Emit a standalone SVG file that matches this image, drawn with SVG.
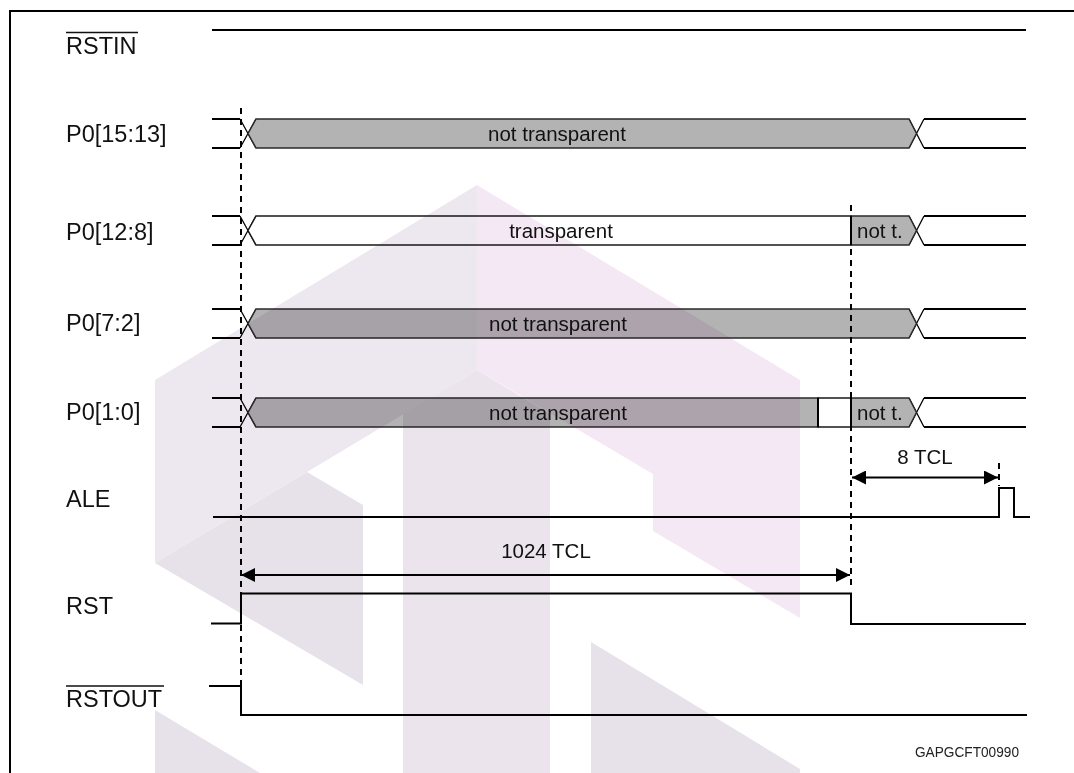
<svg xmlns="http://www.w3.org/2000/svg" width="1074" height="773" viewBox="0 0 1074 773">
<style>
  .lbl { font-family: "Liberation Sans", Arial, sans-serif; font-size: 23.5px; fill: #111; }
  .bt { font-family: "Liberation Sans", Arial, sans-serif; font-size: 20.5px; fill: #111; }
  .mid { text-anchor: middle; }
  .sig { fill: none; stroke: #000; stroke-width: 2; }
  .stub { fill: none; stroke: #000; stroke-width: 2; }
  .xl { fill: none; stroke: #000; stroke-width: 1.3; }
  .gray { fill: #b3b3b3; stroke: #2a2a2a; stroke-width: 1.5; }
  .white { fill: #fff; stroke: #1a1a1a; stroke-width: 1.5; }
  .sep { stroke: #000; stroke-width: 2; }
  .dash { fill: none; stroke: #000; stroke-width: 2; stroke-dasharray: 6 5; }
  .dim { fill: none; stroke: #000; stroke-width: 2; }
  .over { stroke: #111; stroke-width: 1.6; }
  .wm { mix-blend-mode: multiply; }
</style>
<defs>
  <marker id="ah" viewBox="0 0 14 14" refX="14" refY="7" markerWidth="14" markerHeight="14" markerUnits="userSpaceOnUse" orient="auto-start-reverse">
    <path d="M0,0 L14,7 L0,14 z" fill="#000"/>
  </marker>
</defs>
<rect x="0" y="0" width="1074" height="773" fill="#fff"/>
<path d="M10,773 V11 H1074" fill="none" stroke="#000" stroke-width="2"/>

<g id="RSTIN">
  <text class="lbl" x="66" y="53.5">RSTIN</text>
  <line class="over" x1="66" y1="32.5" x2="138" y2="32.5"/>
  <path class="sig" d="M212,30 H1026"/>
</g>

<g id="P0_15_13">
  <text class="lbl" x="66" y="142">P0[15:13]</text>
  <path class="stub" d="M212,119 H240 M212,148 H240 M924,119 H1026 M924,148 H1026"/>
  <path class="xl" d="M240,119 L256,148 M240,148 L256,119 M909,119 L924,148 M909,148 L924,119"/>
  <polygon class="gray" points="248,133.5 256,119 909,119 916.5,133.5 909,148 256,148"/>
  <text class="bt mid" x="557" y="140.5">not transparent</text>
</g>

<g id="P0_12_8">
  <text class="lbl" x="66" y="240">P0[12:8]</text>
  <path class="stub" d="M212,216 H240 M212,245 H240 M924,216 H1026 M924,245 H1026"/>
  <path class="xl" d="M240,216 L256,245 M240,245 L256,216 M909,216 L924,245 M909,245 L924,216"/>
  <polygon class="white" points="248,230.5 256,216 851,216 851,245 256,245"/>
  <polygon class="gray" points="851,216 909,216 916.5,230.5 909,245 851,245"/>
  <line class="sep" x1="851" y1="216" x2="851" y2="245"/>
  <text class="bt mid" x="561" y="237.5">transparent</text>
  <text class="bt" x="857" y="237.5">not t.</text>
</g>

<g id="P0_7_2">
  <text class="lbl" x="66" y="331">P0[7:2]</text>
  <path class="stub" d="M212,309 H240 M212,338 H240 M924,309 H1026 M924,338 H1026"/>
  <path class="xl" d="M240,309 L256,338 M240,338 L256,309 M909,309 L924,338 M909,338 L924,309"/>
  <polygon class="gray" points="248,323.5 256,309 909,309 916.5,323.5 909,338 256,338"/>
  <text class="bt mid" x="558" y="330.5">not transparent</text>
</g>

<g id="P0_1_0">
  <text class="lbl" x="66" y="420">P0[1:0]</text>
  <path class="stub" d="M212,398 H240 M212,427 H240 M924,398 H1026 M924,427 H1026"/>
  <path class="xl" d="M240,398 L256,427 M240,427 L256,398 M909,398 L924,427 M909,427 L924,398"/>
  <polygon class="gray" points="248,412.5 256,398 818,398 818,427 256,427"/>
  <polygon class="white" points="818,398 851,398 851,427 818,427"/>
  <polygon class="gray" points="851,398 909,398 916.5,412.5 909,427 851,427"/>
  <line class="sep" x1="818" y1="398" x2="818" y2="427"/>
  <line class="sep" x1="851" y1="398" x2="851" y2="427"/>
  <text class="bt mid" x="558" y="419.5">not transparent</text>
  <text class="bt" x="857" y="419.5">not t.</text>
</g>

<g id="ALE">
  <text class="lbl" x="66" y="507">ALE</text>
  <path class="sig" d="M213,517 H999 V488 H1014 V517 H1030"/>
</g>

<g id="RST">
  <text class="lbl" x="66" y="614">RST</text>
  <path class="sig" d="M211,623.5 H241 V593.5 H851 V624 H1026"/>
</g>

<g id="RSTOUT">
  <text class="lbl" x="66" y="707">RSTOUT</text>
  <line class="over" x1="66" y1="686" x2="164" y2="686"/>
  <path class="sig" d="M209,686 H241 V715 H1027"/>
</g>

<g id="connectors">
  <line class="dash" x1="241" y1="108" x2="241" y2="686"/>
  <line class="dash" x1="851" y1="205" x2="851" y2="590"/>
  <line class="dash" x1="999" y1="463" x2="999" y2="486"/>
  <line class="dim" x1="852" y1="477.5" x2="998" y2="477.5" marker-start="url(#ah)" marker-end="url(#ah)"/>
  <line class="dim" x1="241" y1="575" x2="850" y2="575" marker-start="url(#ah)" marker-end="url(#ah)"/>
  <text class="bt mid" x="925" y="463.5">8 TCL</text>
  <text class="bt mid" x="546" y="557.5">1024 TCL</text>
</g>

<text x="915" y="756.5" font-family="'Liberation Sans', Arial, sans-serif" font-size="14.5" fill="#222" textLength="104" lengthAdjust="spacingAndGlyphs">GAPGCFT00990</text>

<g id="watermark" class="wm">
  <polygon points="477,185 800,380 800,618 653,531 653,474 477,370" fill="#f5e8f5"/>
  <polygon points="477,185 155,380 155,563 307,472 477,370" fill="#ede7ef"/>
  <polygon points="155,563 307,472 363,505 363,685" fill="#e7e1e9"/>
  <polygon points="403,414 477,370 550,414 550,773 403,773" fill="#ebe4ed"/>
  <polygon points="591,642 800,769 800,773 591,773" fill="#e7e1e9"/>
  <polygon points="155,710 260,773 155,773" fill="#e7e1e9"/>
</g>
</svg>
